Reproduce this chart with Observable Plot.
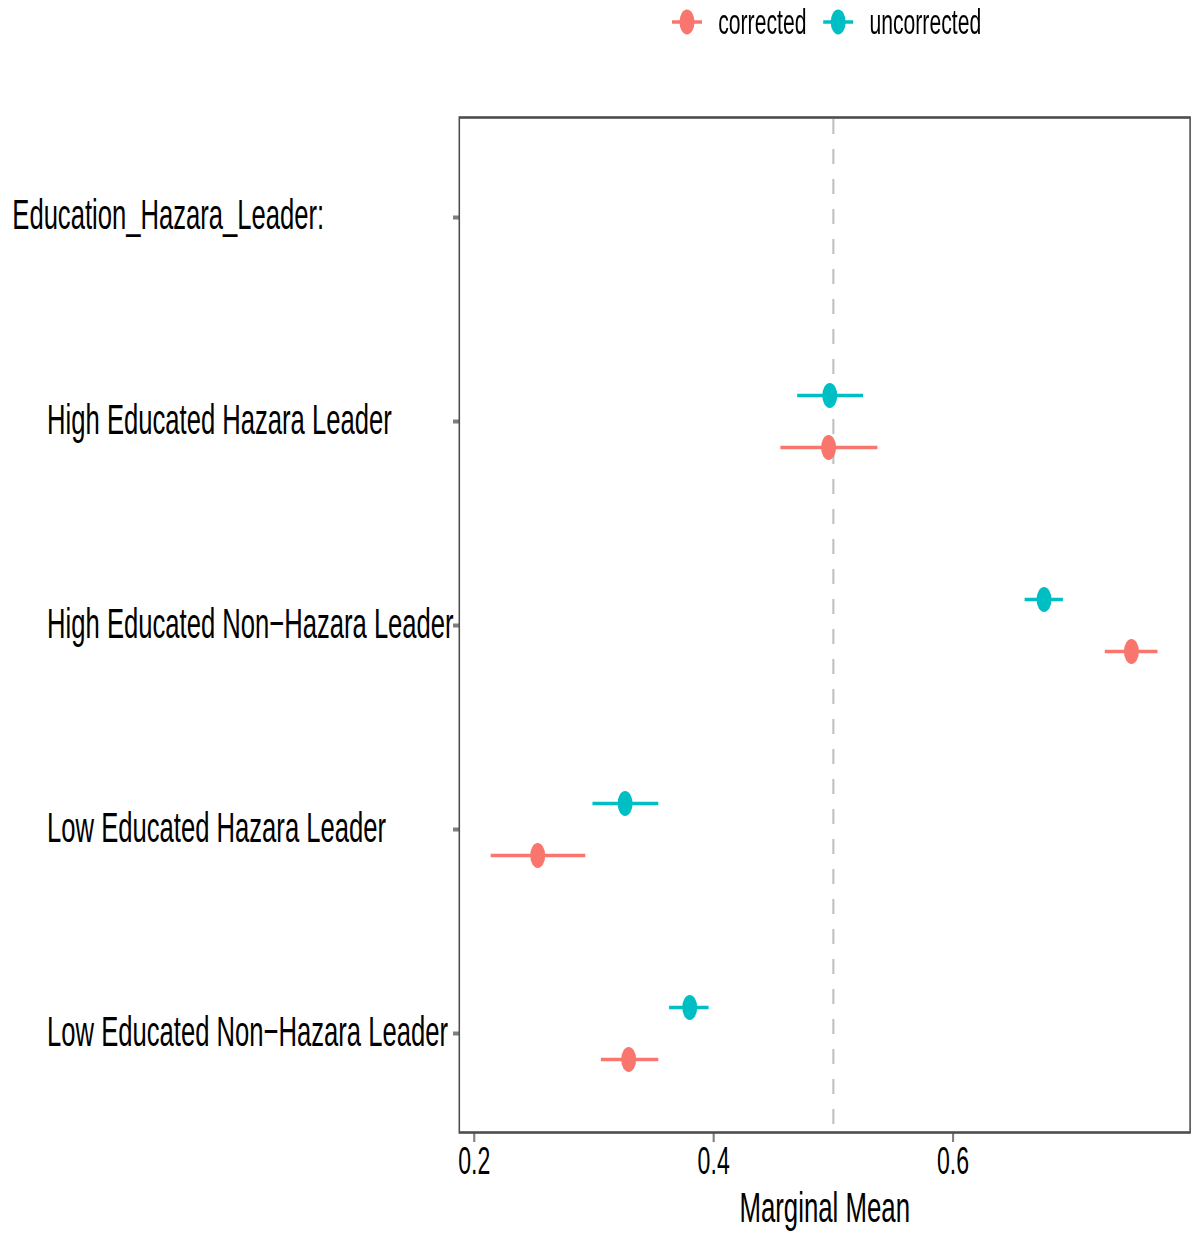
<!DOCTYPE html>
<html>
<head>
<meta charset="utf-8">
<script src="https://cdn.jsdelivr.net/npm/d3@7"></script>
<script src="https://cdn.jsdelivr.net/npm/@observablehq/plot@0.6"></script>
<style>
  html, body { margin: 0; padding: 0; background: #fff; overflow: hidden; }
  #wrap { width: 1987px; transform: scaleX(0.6); transform-origin: 0 0; font-family: "Liberation Sans", Arial, Helvetica, sans-serif; }
  #legend { height: 50px; position: relative; }
  #legend svg { display: block; }
</style>
</head>
<body>
<div id="wrap">
  <div id="legend"></div>
  <div id="chart"></div>
</div>
<script>
// ---- data ----
const header = "Education_Hazara_Leader:";
const levels = [
  "High Educated Hazara Leader",
  "High Educated Non\u2212Hazara Leader",
  "Low Educated Hazara Leader",
  "Low Educated Non\u2212Hazara Leader"
];
const seriesNames = ["corrected", "uncorrected"];
const seriesColors = ["#F8766D", "#00BFC4"];

const correctedEst   = [0.496, 0.749, 0.253, 0.329];
const correctedLower = [0.456, 0.727, 0.214, 0.306];
const correctedUpper = [0.537, 0.771, 0.293, 0.354];

const uncorrectedEst   = [0.497, 0.676, 0.326, 0.380];
const uncorrectedLower = [0.470, 0.660, 0.299, 0.363];
const uncorrectedUpper = [0.525, 0.692, 0.354, 0.396];

const xTicks = [0.2, 0.4, 0.6];
const referenceValue = 0.5;
const xLabel = "Marginal Mean";

// ---- build tables ----
const corrected = levels.map((lv, i) => ({level: lv, est: correctedEst[i], lo: correctedLower[i], hi: correctedUpper[i]}));
const uncorrected = levels.map((lv, i) => ({level: lv, est: uncorrectedEst[i], lo: uncorrectedLower[i], hi: uncorrectedUpper[i]}));

const FONT = "Liberation Sans, Arial, Helvetica, sans-serif";

const chart = Plot.plot({
  width: 1987,
  height: 1186,
  marginLeft: 765,
  marginRight: 4,
  marginTop: 67,
  marginBottom: 104,
  style: {fontFamily: FONT, fontSize: "38.5px", color: "#000", background: "#fff"},
  x: {domain: [0.1875, 0.798], label: null},
  y: {type: "point", domain: [header, ...levels], padding: 0.476, label: null},
  marks: [
    Plot.ruleX([referenceValue], {stroke: "#BEBEBE", strokeWidth: 3.4, strokeDasharray: "15,15", strokeDashoffset: -2}),
    // uncorrected (above)
    Plot.ruleY(uncorrected, {y: "level", x1: "lo", x2: "hi", stroke: seriesColors[1], strokeWidth: 3.5, dy: -26}),
    Plot.dot(uncorrected, {y: "level", x: "est", r: 12.5, fill: seriesColors[1], stroke: "none", dy: -26}),
    // corrected (below)
    Plot.ruleY(corrected, {y: "level", x1: "lo", x2: "hi", stroke: seriesColors[0], strokeWidth: 3.5, dy: 26}),
    Plot.dot(corrected, {y: "level", x: "est", r: 12.5, fill: seriesColors[0], stroke: "none", dy: 26}),
    Plot.axisX({ticks: xTicks, tickFormat: ".1f", tickSize: 10, tickPadding: 4, stroke: "#7F7F7F", strokeWidth: 3.5, fill: "#000", label: null}),
    Plot.axisY({tickSize: 10, tickFormat: () => "", stroke: "#7F7F7F", strokeWidth: 4, label: null}),
    Plot.frame({stroke: "#4D4D4D", strokeWidth: 2.6}),
    // y labels
    Plot.text([header], {y: d => d, text: d => d, frameAnchor: "left", textAnchor: "start", dx: -745, dy: -2, fontSize: 42.7, fill: "#000", lineAnchor: "middle"}),
    Plot.text(levels, {y: d => d, text: d => d, frameAnchor: "left", textAnchor: "start", dx: -687, dy: -1, fontSize: 42.7, fill: "#000", lineAnchor: "middle"}),
    // x title
    Plot.text([xLabel], {text: d => d, frameAnchor: "bottom", dy: 76, fontSize: 43, fill: "#000", lineAnchor: "middle"})
  ]
});
document.getElementById("chart").appendChild(chart);

// ---- legend ----
const lg = d3.select("#legend").append("svg").attr("width", 1987).attr("height", 50);
const legendX = [1120, 1372];
seriesNames.forEach((name, i) => {
  const g = lg.append("g").attr("transform", `translate(${legendX[i]},22)`);
  g.append("line").attr("x1", 0).attr("x2", 50).attr("stroke", seriesColors[i]).attr("stroke-width", 3.5);
  g.append("circle").attr("cx", 25).attr("r", 12.5).attr("fill", seriesColors[i]);
  g.append("text").attr("x", 77).attr("y", 0).attr("dy", "0.35em").attr("font-size", 35.3).attr("font-family", FONT).attr("fill", "#000").text(name);
});
</script>
</body>
</html>
